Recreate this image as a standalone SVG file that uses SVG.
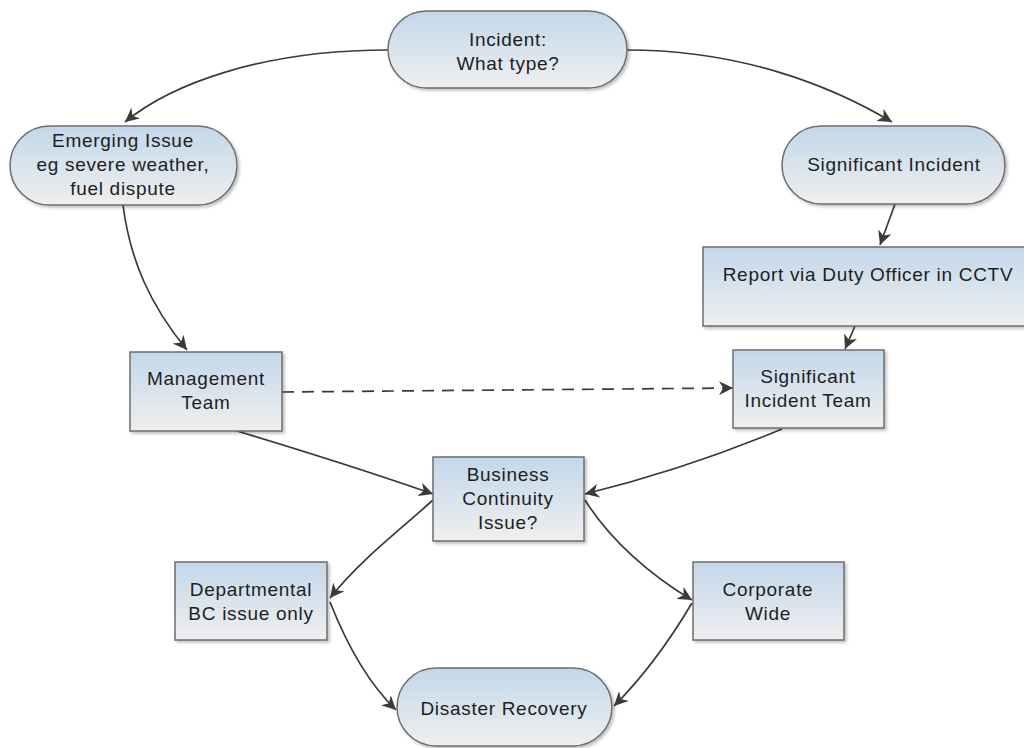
<svg xmlns="http://www.w3.org/2000/svg" width="1024" height="748" viewBox="0 0 1024 748">
<defs>
<linearGradient id="g" x1="0" y1="0" x2="0" y2="1">
<stop offset="0" stop-color="#c3d7ea"/>
<stop offset="1" stop-color="#efefef"/>
</linearGradient>
<filter id="sh" x="-10%" y="-10%" width="130%" height="130%">
<feDropShadow dx="2" dy="2" stdDeviation="1.5" flood-color="#000" flood-opacity="0.25"/>
</filter>
<marker id="ah" viewBox="0 0 10 10" refX="10" refY="5" markerWidth="14" markerHeight="14" markerUnits="userSpaceOnUse" orient="auto">
<path d="M0,0 L10,5 L0,10 L3,5 Z" fill="#3a3a3a"/>
</marker>
</defs>
<style>
.n{fill:url(#g);stroke:#6e6e6e;stroke-width:1.5;filter:url(#sh)}
.t{font-family:"Liberation Sans",Arial,sans-serif;font-size:19px;letter-spacing:0.7px;fill:#1e1e1e;text-anchor:middle}
.c{fill:none;stroke:#3a3a3a;stroke-width:1.7;marker-end:url(#ah)}
</style>
<rect width="1024" height="748" fill="#fff"/>
<g id="connectors">
<path class="c" d="M388,50 C260,50 170,85 125,122"/>
<path class="c" d="M627,50 C740,50 830,85 892,122"/>
<path class="c" d="M895,204 L880,245"/>
<path class="c" d="M123,205 C130,260 150,305 187,350"/>
<path class="c" d="M855,326 L845,349"/>
<path class="c" d="M282,392 L733,388" stroke-dasharray="12,8"/>
<path class="c" d="M237,431 C300,450 370,472 433,494"/>
<path class="c" d="M782,429 C720,455 650,478 585,494"/>
<path class="c" d="M433,500 C400,530 360,560 330,598"/>
<path class="c" d="M330,602 C345,640 365,680 396,710"/>
<path class="c" d="M585,500 C610,540 650,575 692,600"/>
<path class="c" d="M692,603 C670,640 645,675 614,706"/>
</g>
<g id="incident">
<rect class="n" x="388" y="11" width="239" height="77" rx="38.5"/>
<text class="t" x="508" y="46">Incident:</text>
<text class="t" x="508" y="70">What type?</text>
</g>
<g id="emerging">
<rect class="n" x="10" y="126" width="227" height="79" rx="39.5"/>
<text class="t" x="123" y="147">Emerging Issue</text>
<text class="t" x="123" y="171">eg severe weather,</text>
<text class="t" x="123" y="195">fuel dispute</text>
</g>
<g id="significant">
<rect class="n" x="782" y="126" width="223" height="78" rx="39"/>
<text class="t" x="894" y="171">Significant Incident</text>
</g>
<g id="report">
<rect class="n" x="703" y="247" width="330" height="79"/>
<text class="t" x="868" y="281">Report via Duty Officer in CCTV</text>
</g>
<g id="management">
<rect class="n" x="130" y="352" width="152" height="79"/>
<text class="t" x="206" y="385">Management</text>
<text class="t" x="206" y="409">Team</text>
</g>
<g id="sit">
<rect class="n" x="733" y="350" width="151" height="78"/>
<text class="t" x="808" y="383">Significant</text>
<text class="t" x="808" y="407">Incident Team</text>
</g>
<g id="bc">
<rect class="n" x="433" y="457" width="151" height="84"/>
<text class="t" x="508" y="481">Business</text>
<text class="t" x="508" y="505">Continuity</text>
<text class="t" x="508" y="529">Issue?</text>
</g>
<g id="departmental">
<rect class="n" x="175" y="562" width="152" height="78"/>
<text class="t" x="251" y="596">Departmental</text>
<text class="t" x="251" y="620">BC issue only</text>
</g>
<g id="corporate">
<rect class="n" x="693" y="562" width="151" height="78"/>
<text class="t" x="768" y="596">Corporate</text>
<text class="t" x="768" y="620">Wide</text>
</g>
<g id="disaster">
<rect class="n" x="397" y="668" width="215" height="78" rx="39"/>
<text class="t" x="504" y="715">Disaster Recovery</text>
</g>
</svg>
